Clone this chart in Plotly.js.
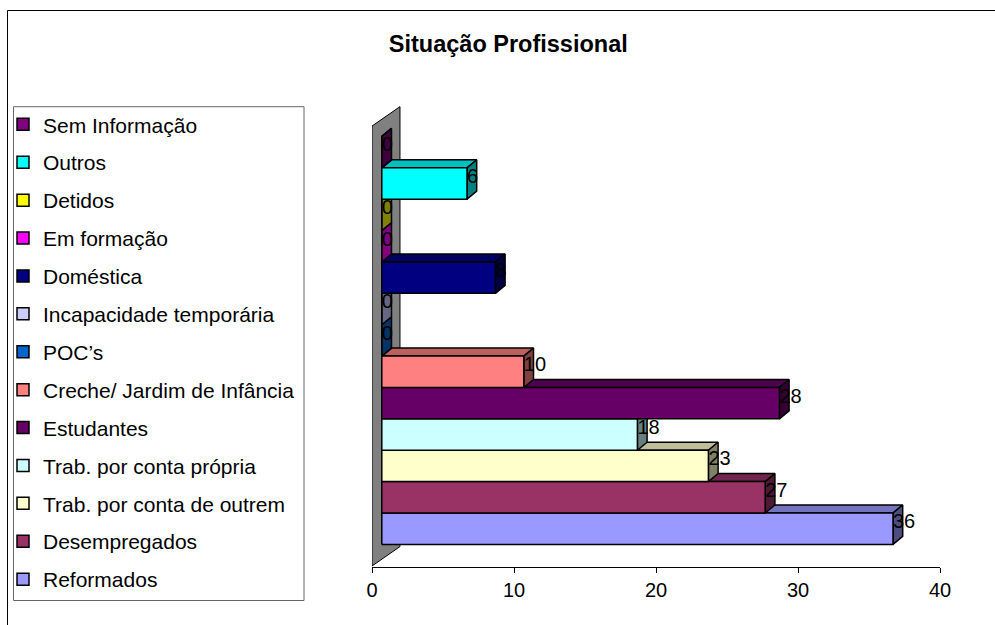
<!DOCTYPE html>
<html>
<head>
<meta charset="utf-8">
<script src="https://cdn.plot.ly/plotly-3.0.1.min.js"></script>
<style>
  html, body { margin: 0; padding: 0; background: #ffffff; }
  #chart { width: 995px; height: 625px; }
</style>
</head>
<body>
<div id="chart"></div>
<script>
// Situação Profissional: one horizontal box-bar per category, listed from the bottom bar up
const categories = [
  "Reformados",
  "Desempregados",
  "Trab. por conta de outrem",
  "Trab. por conta própria",
  "Estudantes",
  "Creche/ Jardim de Infância",
  "POC’s",
  "Incapacidade temporária",
  "Doméstica",
  "Em formação",
  "Detidos",
  "Outros",
  "Sem Informação"
];
const values = [36, 27, 23, 18, 28, 10, 0, 0, 8, 0, 0, 6, 0];
const colors = [
  "#9999FF", "#993366", "#FFFFCC", "#CCFFFF", "#660066", "#FF8080", "#0066CC",
  "#CCCCFF", "#000080", "#FF00FF", "#FFFF00", "#00FFFF", "#800080"
];
const tickValues = [0, 10, 20, 30, 40];

// page geometry
const W = 995, H = 625;
const M = { l: 372, r: 55, t: 105, b: 58 };
const plotW = W - M.l - M.r, plotH = H - M.t - M.b;
const toPaperX = px => (px - M.l) / plotW;
const toPaperY = py => (H - M.b - py) / plotH;

// oblique projection: how far the back edges of a bar sit from its front face
const DEPTH_X = 0.683;     // value units
const DEPTH_Y = 0.255;     // category units
const FRONT_SHIFT = 0.69;  // bars stand slightly behind the value axis
const TOP_SHADE = 0.75, SIDE_SHADE = 0.5;
const LABEL_LIFT = 0.18;

// side wall behind the category axis (value = 0 plane)
const WALL = { floorFront: -1.19, ceilFront: 12.83, depthX: 1.97, depthY: 0.62 };

const FONT = "Liberation Sans, Arial, Helvetica, sans-serif";
const EDGE = { color: "#000000", width: 1.5 };

function shade(hex, k) {
  const n = parseInt(hex.slice(1), 16);
  const r = Math.round(((n >> 16) & 255) * k);
  const g = Math.round(((n >> 8) & 255) * k);
  const b = Math.round((n & 255) * k);
  return `rgb(${r},${g},${b})`;
}

function face(xs, ys, fill) {
  return {
    type: "scatter", mode: "lines", xaxis: "x2", yaxis: "y",
    x: xs, y: ys, fill: "toself", fillcolor: fill,
    line: EDGE, hoverinfo: "skip", showlegend: false
  };
}

const traces = [];

// wall
traces.push({
  type: "scatter", mode: "lines", xaxis: "x", yaxis: "y",
  x: [0, 0, WALL.depthX, WALL.depthX, 0],
  y: [WALL.floorFront, WALL.ceilFront, WALL.ceilFront + WALL.depthY,
      WALL.floorFront + WALL.depthY, WALL.floorFront],
  fill: "toself", fillcolor: "#808080",
  line: { color: "#000000", width: 1 },
  hoverinfo: "skip", showlegend: false
});

// bars, bottom to top so each bar hides the top face of the one below
values.forEach((v, i) => {
  const y0 = i - 0.5, y1 = i + 0.5;
  const c = colors[i];
  traces.push(face(
    [0, v, v + DEPTH_X, DEPTH_X, 0],
    [y1, y1, y1 + DEPTH_Y, y1 + DEPTH_Y, y1],
    shade(c, TOP_SHADE)));
  traces.push(face(
    [v, v + DEPTH_X, v + DEPTH_X, v, v],
    [y0, y0 + DEPTH_Y, y1 + DEPTH_Y, y1, y0],
    shade(c, SIDE_SHADE)));
  traces.push(face(
    [0, v, v, 0, 0],
    [y0, y0, y1, y1, y0],
    c));
});

// value labels at the end of each bar
traces.push({
  type: "scatter", mode: "text", xaxis: "x2", yaxis: "y",
  x: values,
  y: values.map((v, i) => i + LABEL_LIFT),
  text: values.map(String),
  textposition: "middle right",
  textfont: { family: FONT, size: 20, color: "#000000" },
  cliponaxis: false, hoverinfo: "skip", showlegend: false
});

// legend keys, top entry first
for (let i = categories.length - 1; i >= 0; i--) {
  traces.push({
    type: "scatter", mode: "markers", xaxis: "x2", yaxis: "y",
    x: [null], y: [null],
    name: categories[i], legendgroup: "g" + i,
    marker: { symbol: "square", size: 12, color: colors[i],
              line: { color: "#000000", width: 1.5 } },
    hoverinfo: "skip"
  });
}

const layout = {
  width: W, height: H,
  margin: M,
  paper_bgcolor: "#ffffff", plot_bgcolor: "rgba(0,0,0,0)",
  hovermode: false,
  font: { family: FONT, color: "#000000" },
  title: {
    text: "Situação Profissional",
    font: { family: FONT, size: 23.5, weight: 700, color: "#000000" },
    xref: "container", yref: "container",
    x: 508.3 / W, xanchor: "center",
    y: 1 - 44 / H, yanchor: "middle"
  },
  xaxis: {
    range: [0, 40], tickvals: tickValues, ticktext: tickValues.map(String),
    showline: true, linecolor: "#000000", linewidth: 1,
    ticks: "outside", ticklen: 5, tickcolor: "#000000", tickwidth: 1,
    showgrid: false, zeroline: false, fixedrange: true,
    tickfont: { family: FONT, size: 20, color: "#000000" }
  },
  xaxis2: {
    overlaying: "x", range: [-FRONT_SHIFT, 40 - FRONT_SHIFT],
    visible: false, fixedrange: true
  },
  yaxis: {
    range: [-1.221, 13.502], visible: false, fixedrange: true
  },
  showlegend: true,
  legend: {
    xref: "container", yref: "container",
    x: 3 / W, xanchor: "left",
    y: 1 - 104.2 / H, yanchor: "top",
    maxheight: 560,
    bgcolor: "rgba(0,0,0,0)", borderwidth: 0,
    traceorder: "grouped", tracegroupgap: 7.6,
    font: { family: FONT, size: 21, color: "#000000" }
  },
  shapes: [
    // chart frame
    { type: "rect", xref: "paper", yref: "paper", layer: "below",
      x0: toPaperX(7.5), x1: toPaperX(W + 10), y0: toPaperY(H + 10), y1: toPaperY(10.5),
      line: { color: "#000000", width: 1 }, fillcolor: "rgba(0,0,0,0)" },
    // legend frame
    { type: "rect", xref: "paper", yref: "paper", layer: "below",
      x0: toPaperX(13.5), x1: toPaperX(304), y0: toPaperY(600.5), y1: toPaperY(106.7),
      line: { color: "#666666", width: 1 }, fillcolor: "rgba(0,0,0,0)" }
  ]
};

Plotly.newPlot("chart", traces, layout, { displayModeBar: false, staticPlot: true });
</script>
</body>
</html>
